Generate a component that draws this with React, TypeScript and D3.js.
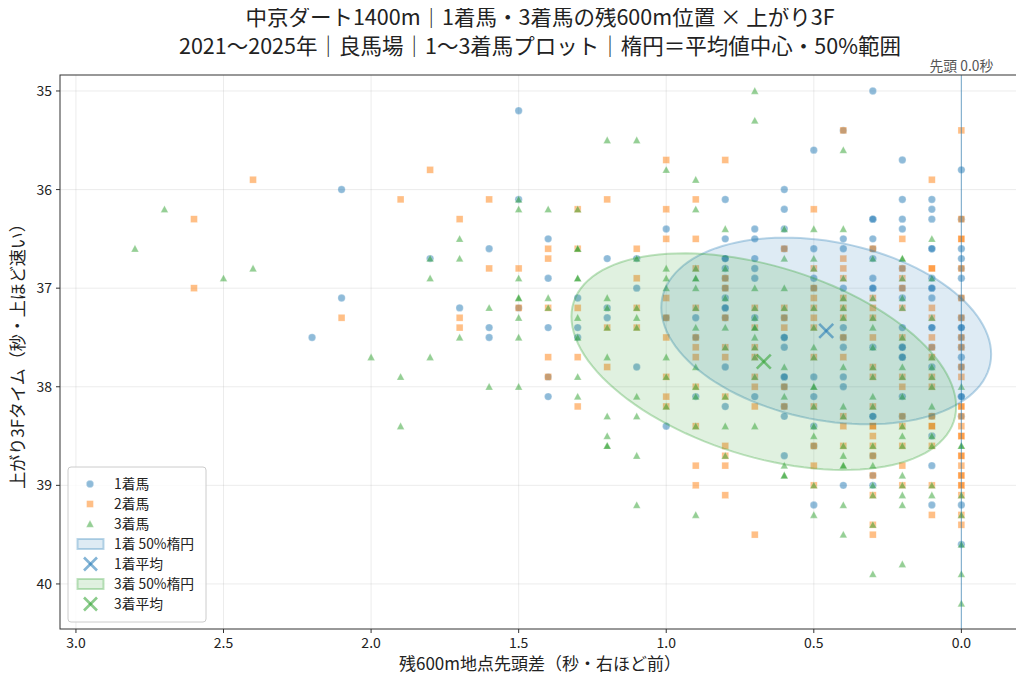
import React from "react";
import * as d3 from "d3";

// ---------- DATA ----------
// [lead gap at 600m remaining (sec), last-3F time (sec)]
const FIRST: [number, number][] = [
  [2.1,36.0],[2.1,37.1],[2.2,37.5],[1.5,35.2],[1.5,36.1],[1.4,36.5],[1.6,36.6],[1.8,36.7],[1.4,36.9],[1.7,37.2],
  [1.6,37.4],[1.6,37.5],[1.4,37.4],[1.4,38.1],[1.5,37.2],[1.4,37.9],
  [0.8,36.1],[1.0,36.4],[0.7,36.4],[0.8,36.5],[0.7,36.5],[1.2,36.7],[1.1,36.7],[0.8,36.7],[0.8,36.7],[0.7,36.7],
  [0.8,36.8],[0.7,36.8],[0.7,36.9],[0.8,36.9],[1.1,37.0],[0.8,37.0],[1.3,37.1],[0.8,37.1],[1.2,37.2],[0.8,37.2],
  [0.8,37.2],[1.2,37.3],[1.0,37.3],[0.9,37.3],[0.8,37.3],[0.7,37.3],[1.3,37.4],
  [1.3,37.5],[0.9,37.5],[1.1,37.8],[0.8,37.8],[0.9,38.1],[0.7,38.1],[0.8,38.2],[1.0,38.4],
  [0.3,35.0],[0.4,35.4],[0.5,35.6],[0.2,35.7],[0.0,35.8],[0.6,36.0],[0.2,36.1],[0.1,36.1],[0.6,36.2],[0.1,36.2],
  [0.3,36.3],[0.3,36.3],[0.2,36.3],[0.1,36.3],[0.0,36.3],[0.6,36.4],[0.2,36.4],[0.4,36.5],[0.3,36.5],[0.6,36.6],
  [0.5,36.6],[0.4,36.6],[0.3,36.6],[0.1,36.6],[0.1,36.6],[0.0,36.6],[0.3,36.7],[0.0,36.7],[0.2,36.8],[0.0,36.8],
  [0.5,36.9],[0.3,36.9],[0.1,36.9],[0.0,36.9],[0.5,37.0],[0.4,37.0],[0.3,37.0],[0.3,37.0],[0.2,37.0],[0.1,37.0],
  [0.1,37.0],[0.2,37.1],[0.1,37.1],[0.0,37.1],[0.6,37.3],[0.0,37.3],[0.4,37.4],[0.2,37.4],[0.1,37.4],[0.1,37.4],
  [0.0,37.4],[0.0,37.4],
  [0.0,37.5],[0.6,37.5],[0.6,37.5],[0.4,37.5],[0.6,37.6],[0.4,37.6],[0.3,37.6],[0.2,37.6],[0.2,37.6],[0.1,37.6],
  [0.0,37.6],[0.2,37.7],[0.2,37.7],[0.0,37.7],[0.1,37.8],[0.0,37.8],[0.6,37.9],[0.6,37.9],[0.5,37.9],[0.4,37.9],
  [0.6,38.0],[0.4,38.0],[0.5,38.1],[0.2,38.1],[0.0,38.1],[0.0,38.1],[0.6,38.2],[0.6,38.3],[0.3,38.3],[0.3,38.3],
  [0.2,38.3],[0.1,38.3],[0.0,38.3],[0.5,38.4],[0.1,38.5],[0.5,38.6],[0.6,38.7],[0.3,38.7],[0.1,38.8],[0.3,38.9],
  [0.4,39.0],[0.3,39.0],[0.5,39.2],[0.1,39.2],[0.0,39.2],[0.0,39.6],
];

const SECOND: [number, number][] = [
  [2.6,36.3],[2.4,35.9],[2.6,37.0],[2.1,37.3],[1.8,35.8],[1.9,36.1],[1.6,36.1],[1.3,36.2],[1.7,36.3],[1.4,36.6],
  [1.3,36.6],[1.4,36.7],[1.6,36.8],[1.5,36.8],[1.5,37.2],[1.4,37.2],[1.7,37.3],[1.7,37.4],[1.4,37.7],[1.4,37.9],
  [1.0,35.7],[0.8,35.7],[1.2,36.1],[0.9,36.1],[1.0,36.2],[1.0,36.5],[0.9,36.5],[1.1,36.6],[1.1,36.9],[0.9,36.8],
  [0.8,36.9],[0.8,37.0],[1.0,37.1],[1.3,37.2],[1.1,37.2],[0.9,37.2],[0.7,37.2],[1.0,37.3],[0.8,37.3],[1.2,37.4],
  [1.1,37.4],[0.7,37.4],
  [1.0,37.5],[0.9,37.5],[1.3,37.7],[0.9,37.6],[0.8,37.6],[0.7,37.6],[0.9,37.7],[0.8,37.7],[0.7,37.7],[1.2,37.8],
  [1.0,37.9],[0.7,37.9],[0.9,38.0],[0.7,38.0],[1.0,38.1],[0.8,38.1],[1.3,38.2],[1.0,38.2],[0.7,38.2],[0.9,38.4],
  [0.8,38.6],[0.8,38.7],[0.9,38.8],[0.8,38.8],[0.9,39.0],[0.8,39.1],[0.7,39.5],
  [0.4,35.4],[0.0,35.4],[0.1,35.9],[0.5,36.2],[0.0,36.3],[0.2,36.5],[0.0,36.5],[0.0,36.5],[0.6,36.6],[0.3,36.6],
  [0.4,36.7],[0.5,36.8],[0.4,36.8],[0.2,36.8],[0.1,36.8],[0.1,36.8],[0.0,36.8],[0.4,36.9],[0.2,36.9],[0.5,37.0],
  [0.2,37.0],[0.5,37.1],[0.4,37.1],[0.3,37.1],[0.0,37.1],[0.6,37.2],[0.5,37.2],[0.4,37.2],[0.3,37.2],[0.2,37.2],
  [0.1,37.2],[0.6,37.3],[0.5,37.3],[0.4,37.3],[0.3,37.3],[0.1,37.3],[0.0,37.3],[0.6,37.4],[0.5,37.4],
  [0.4,37.5],[0.3,37.5],[0.2,37.5],[0.1,37.5],[0.0,37.5],[0.1,37.6],[0.0,37.6],[0.5,37.7],[0.4,37.7],[0.1,37.7],
  [0.3,37.8],[0.0,37.8],[0.3,37.9],[0.2,37.9],[0.1,37.9],[0.0,37.9],[0.6,38.0],[0.2,38.0],[0.1,38.0],[0.6,38.2],
  [0.5,38.2],[0.3,38.2],[0.0,38.2],[0.0,38.2],[0.4,38.3],[0.2,38.3],[0.1,38.3],[0.0,38.3],[0.4,38.4],[0.3,38.4],
  [0.3,38.4],[0.2,38.4],[0.1,38.4],[0.1,38.4],[0.0,38.4],[0.3,38.5],[0.0,38.5],[0.0,38.5],[0.5,38.6],[0.4,38.6],
  [0.3,38.6],[0.2,38.6],[0.1,38.6],[0.3,38.7],[0.0,38.7],[0.0,38.7],[0.5,38.8],[0.2,38.8],[0.0,38.8],[0.3,38.9],
  [0.0,38.9],[0.0,38.9],[0.5,39.0],[0.2,39.0],[0.1,39.0],[0.0,39.0],[0.0,39.0],[0.3,39.1],[0.0,39.1],[0.1,39.3],
  [0.0,39.3],[0.3,39.4],[0.0,39.4],[0.3,39.5],
];

const THIRD: [number, number][] = [
  [2.7,36.2],[2.8,36.6],[2.5,36.9],[2.4,36.8],[1.5,36.1],[1.5,36.2],[1.4,36.2],[1.3,36.2],[1.7,36.5],[1.3,36.6],
  [1.8,36.7],[1.7,36.7],[1.8,36.9],[1.5,36.9],[1.3,36.9],[1.5,37.1],[1.5,37.1],[1.4,37.1],[1.6,37.2],[1.4,37.2],
  [1.5,37.3],[1.7,37.5],[1.5,37.5],[2.0,37.7],[1.8,37.7],[1.9,37.9],[1.6,38.0],[1.5,38.0],[1.9,38.4],
  [0.7,35.0],[0.7,35.3],[1.2,35.5],[1.1,35.5],[1.0,35.8],[0.9,35.9],[0.9,36.2],[0.8,36.4],[1.3,36.6],[1.1,36.7],
  [1.3,36.9],[1.0,36.8],[0.9,36.8],[0.8,36.8],[1.0,36.9],[0.9,36.9],[0.9,36.9],[1.0,37.0],[0.9,37.0],[0.7,37.0],
  [1.2,37.1],[0.8,37.1],[1.2,37.2],[1.1,37.2],[0.9,37.2],[0.7,37.2],[1.3,37.3],[1.1,37.3],[0.7,37.3],[1.2,37.4],
  [1.1,37.4],[0.9,37.4],[0.8,37.4],[0.7,37.4],[0.7,37.4],
  [1.3,37.5],[0.7,37.5],[0.8,37.6],[0.7,37.6],[1.2,37.7],[1.0,37.7],[0.7,37.7],[0.9,37.8],[1.3,37.9],[1.0,37.9],
  [0.7,37.9],[0.9,38.0],[1.3,38.1],[1.1,38.1],[0.9,38.1],[0.8,38.1],[1.0,38.2],[1.2,38.3],[1.1,38.3],[0.9,38.4],
  [0.8,38.4],[0.7,38.4],[1.2,38.5],[1.2,38.6],[1.2,38.6],[1.1,38.7],[0.8,38.7],[1.1,39.2],[0.9,39.3],
  [0.4,35.6],[0.6,36.4],[0.5,36.4],[0.4,36.4],[0.1,36.5],[0.6,36.7],[0.5,36.7],[0.3,36.7],[0.2,36.7],[0.2,36.7],
  [0.5,36.8],[0.4,36.9],[0.2,36.9],[0.1,36.9],[0.6,37.0],[0.4,37.1],[0.3,37.1],[0.2,37.1],[0.6,37.2],[0.5,37.2],
  [0.4,37.2],[0.2,37.2],[0.4,37.3],[0.3,37.3],[0.1,37.3],[0.5,37.4],[0.3,37.4],
  [0.2,37.5],[0.5,37.6],[0.3,37.6],[0.5,37.7],[0.1,37.7],[0.6,37.8],[0.4,37.8],[0.3,37.8],[0.2,37.8],[0.1,37.8],
  [0.3,37.9],[0.2,37.9],[0.1,37.9],[0.5,38.0],[0.5,38.0],[0.1,38.0],[0.0,38.0],[0.6,38.1],[0.3,38.1],[0.2,38.1],
  [0.5,38.2],[0.4,38.2],[0.3,38.2],[0.1,38.2],[0.4,38.3],[0.5,38.4],[0.2,38.4],[0.5,38.5],[0.2,38.5],[0.1,38.5],
  [0.4,38.6],[0.3,38.6],[0.2,38.6],[0.1,38.6],[0.0,38.6],[0.0,38.6],[0.4,38.7],[0.6,38.8],[0.4,38.8],[0.4,38.8],
  [0.3,38.8],[0.6,38.9],[0.6,38.9],[0.2,38.9],[0.5,39.0],[0.3,39.0],[0.2,39.0],[0.1,39.0],[0.3,39.1],[0.2,39.1],
  [0.1,39.1],[0.0,39.1],[0.4,39.2],[0.2,39.2],[0.5,39.3],[0.0,39.3],[0.3,39.4],[0.4,39.5],[0.0,39.6],[0.2,39.8],
  [0.3,39.9],[0.0,39.9],[0.0,40.2],
];

// group statistics: mean [x, y], covariance [xx, xy, yy]
const FIRST_MEAN = [0.458, 37.434];
const FIRST_COV = [0.2253, -0.0955, 0.6462];
const THIRD_MEAN = [0.6695, 37.745];
const THIRD_COV = [0.3064, -0.2147, 0.8704];

const X_TICKS = [3.0, 2.5, 2.0, 1.5, 1.0, 0.5, 0.0];
const Y_TICKS = [35, 36, 37, 38, 39, 40];

const TITLE_1 = "中京ダート1400m｜1着馬・3着馬の残600m位置 × 上がり3F";
const TITLE_2 = "2021〜2025年｜良馬場｜1〜3着馬プロット｜楕円＝平均値中心・50%範囲";
const X_LABEL = "残600m地点先頭差（秒・右ほど前）";
const Y_LABEL = "上がり3Fタイム（秒・上ほど速い）";
const LEADER_LABEL = "先頭 0.0秒";
const LEGEND_LABELS = ["1着馬", "2着馬", "3着馬", "1着 50%楕円", "1着平均", "3着 50%楕円", "3着平均"];

// ---------- STYLE ----------
const W = 1024, H = 684;
const M = { left: 60, right: 1021, top: 75, bottom: 629 };
const BLUE = "#1f77b4", ORANGE = "#ff7f0e", GREEN = "#2ca02c";
const FONT = "'Noto Sans CJK JP', 'Noto Sans', sans-serif";
const K50 = Math.sqrt(-2 * Math.log(0.5));

const x = d3.scaleLinear().domain([3.054, -0.202]).range([M.left, M.right]);
const y = d3.scaleLinear().domain([34.838, 40.457]).range([M.top, M.bottom]);

function ellipsePath(mean: number[], cov: number[]): string {
  const [a, b, c] = cov;
  const l11 = Math.sqrt(a);
  const l21 = b / l11;
  const l22 = Math.sqrt(c - l21 * l21);
  const pts: [number, number][] = d3.range(0, 361, 3).map((deg) => {
    const t = (deg * Math.PI) / 180;
    const u = K50 * Math.cos(t), v = K50 * Math.sin(t);
    return [x(mean[0] + l11 * u), y(mean[1] + l21 * u + l22 * v)];
  });
  return (d3.line()(pts) || "") + "Z";
}

const Circle = ({ cx, cy, color }: any) => (
  <circle cx={cx} cy={cy} r={3.7} fill={color} fillOpacity={0.5} stroke="#fff" strokeOpacity={0.5} strokeWidth={0.5} />
);
const Square = ({ cx, cy, color }: any) => (
  <rect x={cx - 3.4} y={cy - 3.4} width={6.8} height={6.8} fill={color} fillOpacity={0.5} stroke="#fff" strokeOpacity={0.5} strokeWidth={0.5} />
);
const Tri = ({ cx, cy, color }: any) => (
  <path d={`M${cx},${cy - 3.9}L${cx + 3.8},${cy + 3.2}L${cx - 3.8},${cy + 3.2}Z`} fill={color} fillOpacity={0.5} stroke="#fff" strokeOpacity={0.5} strokeWidth={0.5} />
);
const XMark = ({ cx, cy, color, s = 7 }: any) => (
  <g stroke={color} strokeOpacity={0.55} strokeWidth={2.6}>
    <line x1={cx - s} y1={cy - s} x2={cx + s} y2={cy + s} />
    <line x1={cx - s} y1={cy + s} x2={cx + s} y2={cy - s} />
  </g>
);

export default function App() {
  const lx = 68, ly = 467, lw = 138, lh = 155;
  const rowY = (i: number) => ly + 17 + i * 20;
  return (
    <svg width={W} height={H} style={{ display: "block", margin: -8, fontFamily: FONT }}>
      <rect width={W} height={H} fill="#fff" />
      <text x={540} y={25} textAnchor="middle" fontSize={21.5} fill="#222">{TITLE_1}</text>
      <text x={540} y={54} textAnchor="middle" fontSize={21.5} fill="#222">{TITLE_2}</text>

      {/* grid */}
      <g stroke="#b0b0b0" strokeOpacity={0.3} strokeWidth={0.8}>
        {X_TICKS.map((t) => <line key={"gx" + t} x1={x(t)} x2={x(t)} y1={M.top} y2={M.bottom} />)}
        {Y_TICKS.map((t) => <line key={"gy" + t} x1={M.left} x2={M.right} y1={y(t)} y2={y(t)} />)}
      </g>

      {/* scatter */}
      <g>{FIRST.map((d, i) => <Circle key={"a" + i} cx={x(d[0])} cy={y(d[1])} color={BLUE} />)}</g>
      <g>{SECOND.map((d, i) => <Square key={"b" + i} cx={x(d[0])} cy={y(d[1])} color={ORANGE} />)}</g>
      <g>{THIRD.map((d, i) => <Tri key={"c" + i} cx={x(d[0])} cy={y(d[1])} color={GREEN} />)}</g>

      {/* ellipses */}
      <path d={ellipsePath(FIRST_MEAN, FIRST_COV)} fill={BLUE} fillOpacity={0.15} stroke={BLUE} strokeOpacity={0.3} strokeWidth={2} />
      <path d={ellipsePath(THIRD_MEAN, THIRD_COV)} fill={GREEN} fillOpacity={0.15} stroke={GREEN} strokeOpacity={0.3} strokeWidth={2} />
      <XMark cx={x(FIRST_MEAN[0])} cy={y(FIRST_MEAN[1])} color={BLUE} />
      <XMark cx={x(THIRD_MEAN[0])} cy={y(THIRD_MEAN[1])} color={GREEN} />

      {/* leader line */}
      <line x1={x(0)} x2={x(0)} y1={M.top} y2={M.bottom} stroke={BLUE} strokeOpacity={0.5} strokeWidth={1.2} />
      <text x={x(0)} y={71} textAnchor="middle" fontSize={13.8} fill="#555">{LEADER_LABEL}</text>

      {/* frame */}
      <rect x={M.left} y={M.top} width={M.right - M.left} height={M.bottom - M.top} fill="none" stroke="#333" strokeWidth={1} />

      {/* axes ticks */}
      <g fontSize={14} fill="#222">
        {X_TICKS.map((t) => (
          <g key={"tx" + t}>
            <line x1={x(t)} x2={x(t)} y1={M.bottom} y2={M.bottom + 4} stroke="#333" />
            <text x={x(t)} y={M.bottom + 19} textAnchor="middle">{t.toFixed(1)}</text>
          </g>
        ))}
        {Y_TICKS.map((t) => (
          <g key={"ty" + t}>
            <line x1={M.left - 4} x2={M.left} y1={y(t)} y2={y(t)} stroke="#333" />
            <text x={M.left - 8} y={y(t) + 5} textAnchor="end">{t}</text>
          </g>
        ))}
      </g>
      <text x={540} y={670} textAnchor="middle" fontSize={17} fill="#222">{X_LABEL}</text>
      <text transform={`translate(24,${(M.top + M.bottom) / 2}) rotate(-90)`} textAnchor="middle" fontSize={17} fill="#222">{Y_LABEL}</text>

      {/* legend */}
      <rect x={lx} y={ly} width={lw} height={lh} rx={3} fill="#fff" fillOpacity={0.8} stroke="#ccc" />
      <g fontSize={13.8} fill="#222">
        <Circle cx={90} cy={rowY(0)} color={BLUE} />
        <Square cx={90} cy={rowY(1)} color={ORANGE} />
        <Tri cx={90} cy={rowY(2)} color={GREEN} />
        <rect x={77.5} y={rowY(3) - 5} width={26} height={10} fill={BLUE} fillOpacity={0.15} stroke={BLUE} strokeOpacity={0.3} strokeWidth={2} />
        <XMark cx={90.5} cy={rowY(4)} color={BLUE} s={6.5} />
        <rect x={77.5} y={rowY(5) - 5} width={26} height={10} fill={GREEN} fillOpacity={0.15} stroke={GREEN} strokeOpacity={0.3} strokeWidth={2} />
        <XMark cx={90.5} cy={rowY(6)} color={GREEN} s={6.5} />
        {LEGEND_LABELS.map((l, i) => (
          <text key={l} x={114} y={rowY(i) + 5}>{l}</text>
        ))}
      </g>
    </svg>
  );
}
